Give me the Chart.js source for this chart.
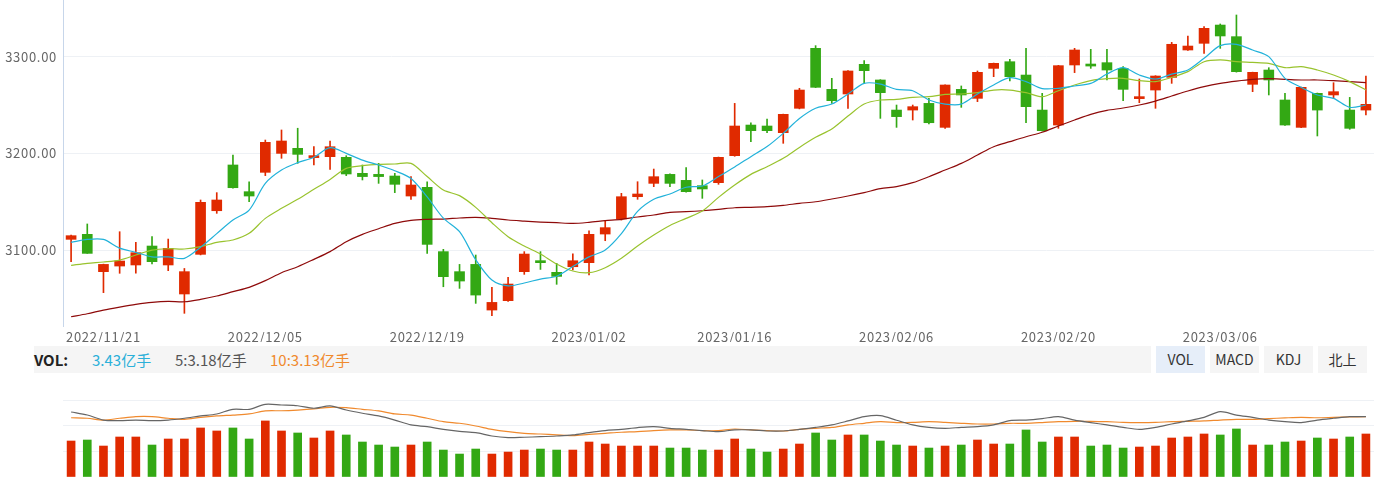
<!DOCTYPE html>
<html>
<head>
<meta charset="utf-8">
<script src="https://cdn.jsdelivr.net/npm/chart.js@4/dist/chart.umd.min.js"></script>
<style>
  body { margin: 0; background: #fff; font-family: "Noto Sans CJK SC", "Noto Sans", sans-serif; }
  #wrap { position: relative; width: 1375px; height: 477px; overflow: hidden; }
  #kbox { position: absolute; left: 0; top: 0; width: 1375px; height: 342px; }
  #vbox { position: absolute; left: 0; top: 390px; width: 1375px; height: 87px; }
  .legend { position: absolute; left: 34px; top: 346px; width: 1117px; height: 27px; background: #f5f5f5; font-size: 15px; line-height: 27px; }
  .legend span { position: absolute; top: 0; white-space: nowrap; }
  .btn { position: absolute; top: 346px; width: 49px; height: 27px; line-height: 27px; text-align: center; background: #f5f5f5; color: #333; font-size: 14px; }
</style>
</head>
<body>
<div id="wrap">
  <div id="kbox"><canvas id="kline" width="1375" height="342"></canvas></div>
  <div class="legend">
    <span style="left:0;font-weight:bold;color:#222;">VOL:</span>
    <span style="left:58px;color:#2bb0d9;">3.43亿手</span>
    <span style="left:141px;color:#555;">5:3.18亿手</span>
    <span style="left:236px;color:#f08a2e;">10:3.13亿手</span>
  </div>
  <div class="btn" style="left:1156px;background:#e6eef9;">VOL</div>
  <div class="btn" style="left:1210px;">MACD</div>
  <div class="btn" style="left:1264px;">KDJ</div>
  <div class="btn" style="left:1318px;">北上</div>
  <div id="vbox"><canvas id="vol" width="1375" height="87"></canvas></div>
</div>
<script>
// Start Data
const dates = [
  "2022/11/17","2022/11/18","2022/11/21","2022/11/22","2022/11/23","2022/11/24","2022/11/25","2022/11/28","2022/11/29","2022/11/30",
  "2022/12/01","2022/12/02","2022/12/05","2022/12/06","2022/12/07","2022/12/08","2022/12/09","2022/12/12","2022/12/13","2022/12/14",
  "2022/12/15","2022/12/16","2022/12/19","2022/12/20","2022/12/21","2022/12/22","2022/12/23","2022/12/26","2022/12/27","2022/12/28",
  "2022/12/29","2022/12/30","2023/01/03","2023/01/04","2023/01/05","2023/01/06","2023/01/09","2023/01/10","2023/01/11","2023/01/12",
  "2023/01/13","2023/01/16","2023/01/17","2023/01/18","2023/01/19","2023/01/20","2023/01/30","2023/01/31","2023/02/01","2023/02/02",
  "2023/02/03","2023/02/06","2023/02/07","2023/02/08","2023/02/09","2023/02/10","2023/02/13","2023/02/14","2023/02/15","2023/02/16",
  "2023/02/17","2023/02/20","2023/02/21","2023/02/22","2023/02/23","2023/02/24","2023/02/27","2023/02/28","2023/03/01","2023/03/02",
  "2023/03/03","2023/03/06","2023/03/07","2023/03/08","2023/03/09","2023/03/10","2023/03/13","2023/03/14","2023/03/15","2023/03/16",
  "2023/03/17"
];

const opens = [
  3111.1,3116.3,3077.7,3083.5,3084.6,3104.2,3084.6,3054.6,3095.6,3140.7,
  3188.0,3160.4,3180.4,3200.0,3205.2,3195.6,3196.6,3195.9,3179.4,3178.3,
  3176.6,3155.9,3164.9,3098.4,3077.7,3085.2,3038.0,3047.7,3077.7,3088.7,
  3077.0,3082.8,3087.0,3116.6,3132.1,3155.2,3169.0,3178.3,3172.1,3166.6,
  3169.7,3197.6,3229.3,3228.3,3221.4,3246.6,3308.6,3266.2,3261.4,3292.1,
  3275.9,3244.8,3244.8,3251.7,3226.9,3266.2,3256.9,3287.9,3294.8,3281.0,
  3244.8,3229.3,3291.4,3292.4,3293.8,3287.9,3256.6,3265.5,3278.6,3306.9,
  3313.8,3332.7,3320.7,3271.4,3286.2,3255.2,3226.9,3262.1,3260.4,3244.8,
  3244.8
];
const highs = [
  3115.5,3127.0,3085.5,3119.0,3108.0,3114.0,3111.4,3081.0,3151.8,3159.4,
  3198.3,3170.7,3213.8,3224.2,3226.0,3206.9,3212.8,3197.6,3188.0,3189.7,
  3179.4,3175.9,3170.7,3100.8,3085.2,3094.9,3061.5,3071.8,3098.4,3098.4,
  3086.3,3096.0,3120.0,3130.4,3158.7,3170.7,3183.8,3178.8,3185.2,3172.5,
  3196.2,3251.7,3231.7,3235.5,3240.6,3267.3,3311.4,3277.6,3285.5,3295.9,
  3276.2,3250.0,3250.0,3256.9,3271.0,3269.7,3285.2,3293.4,3297.2,3308.6,
  3262.1,3291.0,3308.6,3307.6,3307.6,3289.7,3276.9,3280.3,3314.8,3321.4,
  3331.0,3333.8,3343.1,3284.0,3288.6,3262.1,3268.5,3262.4,3273.1,3257.9,
  3280.0
];
const lows = [
  3088.0,3096.6,3056.0,3076.0,3076.0,3085.6,3078.7,3034.6,3095.0,3138.0,
  3164.0,3150.0,3177.0,3194.9,3189.7,3188.0,3183.5,3177.0,3172.5,3169.0,
  3159.4,3152.5,3096.6,3062.1,3060.4,3044.9,3032.2,3047.0,3074.9,3080.0,
  3064.6,3079.4,3074.2,3109.7,3131.0,3152.5,3165.6,3165.6,3160.0,3153.5,
  3168.0,3197.0,3212.1,3221.4,3210.4,3246.0,3268.0,3251.7,3246.6,3272.4,
  3236.2,3226.9,3234.5,3230.4,3225.9,3247.6,3253.5,3279.3,3274.8,3231.7,
  3223.0,3225.9,3283.5,3287.9,3275.9,3254.5,3252.4,3246.6,3272.4,3306.5,
  3303.4,3308.6,3284.0,3263.8,3260.4,3229.0,3226.5,3218.0,3256.9,3224.9,
  3239.7
];
const closes = [
  3114.9,3096.6,3085.2,3088.7,3097.3,3088.0,3101.8,3077.7,3149.4,3151.8,
  3164.5,3155.9,3211.4,3212.8,3199.0,3197.6,3206.9,3178.7,3176.0,3176.0,
  3168.0,3167.3,3105.9,3072.5,3068.0,3053.5,3045.9,3064.9,3095.9,3087.0,
  3072.8,3089.0,3116.3,3123.2,3155.2,3158.0,3175.9,3169.0,3160.4,3163.2,
  3195.9,3228.3,3223.5,3223.5,3240.4,3265.5,3268.3,3254.5,3285.2,3285.5,
  3262.8,3238.0,3248.3,3231.7,3270.7,3260.4,3283.8,3293.1,3279.3,3248.3,
  3223.5,3290.7,3306.9,3290.3,3286.2,3266.2,3257.9,3280.0,3312.8,3311.0,
  3329.3,3321.4,3284.5,3283.8,3275.9,3229.3,3268.3,3244.8,3263.8,3225.9,
  3250.7
];

const ma5 = [
  3108.0,3111.0,3111.0,3102.0,3097.7,3093.0,3093.0,3091.5,3103.0,3117.0,
  3131.0,3141.4,3169.0,3182.8,3190.4,3196.0,3206.0,3200.0,3193.0,3188.0,
  3182.0,3174.0,3155.0,3133.0,3119.0,3090.0,3069.0,3063.0,3066.0,3070.0,
  3073.0,3083.0,3093.0,3100.0,3117.0,3140.0,3152.5,3158.0,3165.0,3166.3,
  3176.0,3186.0,3196.6,3207.0,3220.7,3236.0,3246.6,3251.0,3261.4,3272.4,
  3271.7,3266.2,3264.8,3255.2,3251.0,3251.0,3261.4,3270.7,3278.3,3274.2,
  3267.0,3267.3,3269.7,3272.4,3282.0,3288.6,3281.0,3276.9,3282.0,3286.2,
  3298.3,3311.4,3312.8,3306.9,3300.0,3277.6,3268.3,3260.4,3256.9,3247.6,
  3250.0
];
const ma10 = [
  3084.2,3086.3,3087.7,3089.7,3094.9,3100.0,3101.4,3101.1,3103.5,3108.0,
  3110.4,3117.3,3132.8,3143.2,3152.5,3162.8,3173.1,3184.5,3187.3,3188.7,
  3189.0,3189.7,3176.0,3162.1,3156.3,3144.2,3128.3,3113.9,3104.2,3096.0,
  3085.6,3078.4,3076.6,3081.8,3091.5,3104.2,3115.6,3125.5,3132.8,3140.4,
  3154.5,3167.3,3178.3,3186.2,3194.9,3206.2,3216.6,3225.2,3238.6,3251.0,
  3255.2,3255.9,3258.0,3258.6,3261.0,3261.4,3262.8,3265.5,3265.5,3262.8,
  3258.6,3264.8,3270.7,3275.2,3277.2,3277.6,3275.2,3274.2,3278.6,3284.5,
  3294.8,3296.6,3294.8,3294.1,3293.1,3288.6,3289.7,3286.2,3281.0,3274.2,
  3265.5
];
const ma30 = [
  3031.1,3034.2,3038.0,3041.1,3043.9,3046.0,3047.0,3046.6,3049.0,3052.5,
  3057.0,3061.5,3068.4,3076.6,3082.8,3090.4,3098.4,3108.7,3116.3,3122.1,
  3127.6,3130.8,3131.8,3132.1,3133.2,3133.9,3132.8,3131.1,3130.0,3129.0,
  3128.3,3127.6,3128.7,3130.4,3131.8,3134.2,3136.3,3139.0,3139.7,3140.7,
  3142.1,3143.8,3144.2,3144.9,3146.3,3148.3,3150.0,3152.8,3155.9,3159.4,
  3163.5,3165.6,3169.7,3175.9,3182.8,3189.7,3198.3,3206.9,3212.1,3217.2,
  3221.8,3228.3,3234.5,3240.4,3244.5,3246.9,3250.0,3254.1,3259.3,3264.5,
  3269.0,3272.4,3274.8,3276.6,3277.2,3276.6,3275.9,3275.9,3275.2,3274.2,
  3273.1
];

// volume, 亿手
const vols = [
  2.87,2.95,2.47,3.19,3.19,2.55,3.03,3.03,3.91,3.67,
  3.91,3.03,4.47,3.67,3.51,3.11,3.67,3.35,2.79,2.55,
  2.39,2.55,2.79,2.15,1.83,2.23,1.83,1.99,2.15,2.23,
  2.15,2.15,2.79,2.63,2.47,2.47,2.47,2.31,2.31,2.15,
  2.15,3.03,2.23,1.99,2.23,2.63,3.51,2.95,3.35,3.35,
  2.87,2.55,2.47,2.31,2.47,2.55,2.95,2.63,2.63,3.75,
  2.79,3.19,3.19,2.47,2.55,2.31,2.39,2.47,3.11,3.19,
  3.43,3.35,3.83,2.55,2.55,2.79,2.87,3.11,3.03,3.19,
  3.43
];
const volMa5 = [
  3.43,3.26,2.98,2.95,2.98,2.95,2.98,3.08,3.21,3.32,
  3.58,3.58,3.86,3.82,3.78,3.64,3.77,3.54,3.36,3.21,
  2.98,2.71,2.61,2.46,2.35,2.28,2.09,2.00,2.02,2.05,
  2.09,2.15,2.28,2.39,2.46,2.56,2.61,2.52,2.46,2.39,
  2.33,2.43,2.43,2.37,2.37,2.46,2.57,2.71,2.93,3.17,
  3.23,2.97,2.71,2.57,2.52,2.57,2.61,2.71,2.95,2.98,
  3.06,3.17,2.98,2.84,2.71,2.57,2.46,2.57,2.76,2.93,
  3.13,3.45,3.26,3.13,2.98,2.89,2.84,2.98,3.08,3.17,
  3.17
];
const volMa10 = [
  3.11,3.08,2.98,3.08,3.17,3.17,3.08,3.02,3.13,3.21,
  3.26,3.32,3.49,3.50,3.54,3.60,3.69,3.67,3.58,3.49,
  3.32,3.26,3.08,2.89,2.80,2.65,2.46,2.33,2.24,2.20,
  2.15,2.11,2.18,2.24,2.30,2.33,2.39,2.43,2.43,2.39,
  2.39,2.48,2.43,2.39,2.37,2.46,2.52,2.57,2.71,2.80,
  2.89,2.84,2.85,2.89,2.85,2.80,2.76,2.76,2.80,2.80,
  2.84,2.89,2.91,2.91,2.89,2.85,2.84,2.85,2.89,2.91,
  2.93,2.98,3.02,3.02,3.06,3.10,3.13,3.11,3.13,3.15,
  3.17
];

const tickIdx = [2, 12, 22, 32, 41, 51, 61, 71];
const tickText = ["2022/11/21","2022/12/05","2022/12/19","2023/01/02","2023/01/16","2023/02/06","2023/02/20","2023/03/06"];
const yTicks = [3100, 3200, 3300];
// End Data

const RED = "#e02a00";
const GREEN = "#33a814";
const candleColors = closes.map((c, i) => (c >= opens[i] ? RED : GREEN));
const tickFont = { family: "'Noto Sans CJK SC', 'Noto Sans', sans-serif", size: 13 };

// no extra room for edge labels, keep the plot box fixed
function noPad(s) {
  s.paddingTop = 0;
  s.paddingBottom = 0;
  s.paddingLeft = 0;
  s.paddingRight = 0;
}

// wider axis text, like the original
const spacedText = {
  id: "spacedText",
  beforeDraw(chart) { chart.ctx.letterSpacing = "0.7px"; },
};

// Start K Line Chart
const k_ctx = document.getElementById("kline");

const kChart = new Chart(k_ctx, {
  type: "bar",
  data: {
    labels: dates,
    datasets: [
      { type: "line", label: "MA5", data: ma5, borderColor: "#22b2da", borderWidth: 1.2, pointRadius: 0, tension: 0.3, order: 0 },
      { type: "line", label: "MA10", data: ma10, borderColor: "#99c32e", borderWidth: 1.2, pointRadius: 0, tension: 0.3, order: 0 },
      { type: "line", label: "MA30", data: ma30, borderColor: "#8e0a0a", borderWidth: 1.2, pointRadius: 0, tension: 0.3, order: 0 },
      { label: "body", data: opens.map((o, i) => [o, closes[i]]), backgroundColor: candleColors, barThickness: 10, minBarLength: 2, grouped: false, order: 2 },
      { label: "wick", data: lows.map((l, i) => [l, highs[i]]), backgroundColor: candleColors, barThickness: 1, grouped: false, order: 3 },
    ],
  },
  options: {
    responsive: false,
    animation: false,
    layout: { padding: { left: 0, right: 1, top: 0, bottom: 0 } },
    plugins: { legend: { display: false }, tooltip: { enabled: false } },
    scales: {
      x: {
        offset: true,
        grid: { display: false, drawTicks: false },
        border: { display: false },
        ticks: {
          autoSkip: false,
          maxRotation: 0,
          padding: 3,
          color: "#666",
          font: tickFont,
          callback: (v, i) => {
            const k = tickIdx.indexOf(i);
            return k < 0 ? "" : tickText[k];
          },
        },
        afterFit: (s) => { s.height = 16; noPad(s); },
      },
      y: {
        min: 3021.5,
        max: 3358.6,
        afterBuildTicks: (s) => { s.ticks = yTicks.map((v) => ({ value: v })); },
        ticks: { color: "#666", font: tickFont, padding: 6, callback: (v) => Number(v).toFixed(2) },
        grid: { color: "#eef1f5", drawTicks: false },
        border: { color: "#c7d6ea" },
        afterFit: (s) => { s.width = 63; noPad(s); },
      },
    },
  },
  plugins: [spacedText],
});
// End K Line Chart

// Start Volume Chart
const vol_ctx = document.getElementById("vol");

const volChart = new Chart(vol_ctx, {
  type: "bar",
  data: {
    labels: dates,
    datasets: [
      { type: "line", label: "5", data: volMa5, yAxisID: "m", borderColor: "#666", borderWidth: 1.2, pointRadius: 0, tension: 0.3, order: 0 },
      { type: "line", label: "10", data: volMa10, yAxisID: "m", borderColor: "#f08a2e", borderWidth: 1.2, pointRadius: 0, tension: 0.3, order: 1 },
      { label: "VOL", data: vols, yAxisID: "y", backgroundColor: candleColors, barThickness: 8, order: 2 },
    ],
  },
  options: {
    responsive: false,
    animation: false,
    layout: { padding: { left: 0, right: 1, top: 10, bottom: 0 } },
    plugins: { legend: { display: false }, tooltip: { enabled: false } },
    scales: {
      x: { offset: true, display: false },
      y: {
        min: 0,
        max: 6.14,
        ticks: { display: false, count: 4 },
        grid: { color: "#eef1f5", drawTicks: false },
        border: { display: false },
        afterFit: (s) => { s.width = 63; noPad(s); },
      },
      m: { display: false, min: -0.2, max: 4.1 },
    },
  },
});
// End Volume Chart
</script>
</body>
</html>
